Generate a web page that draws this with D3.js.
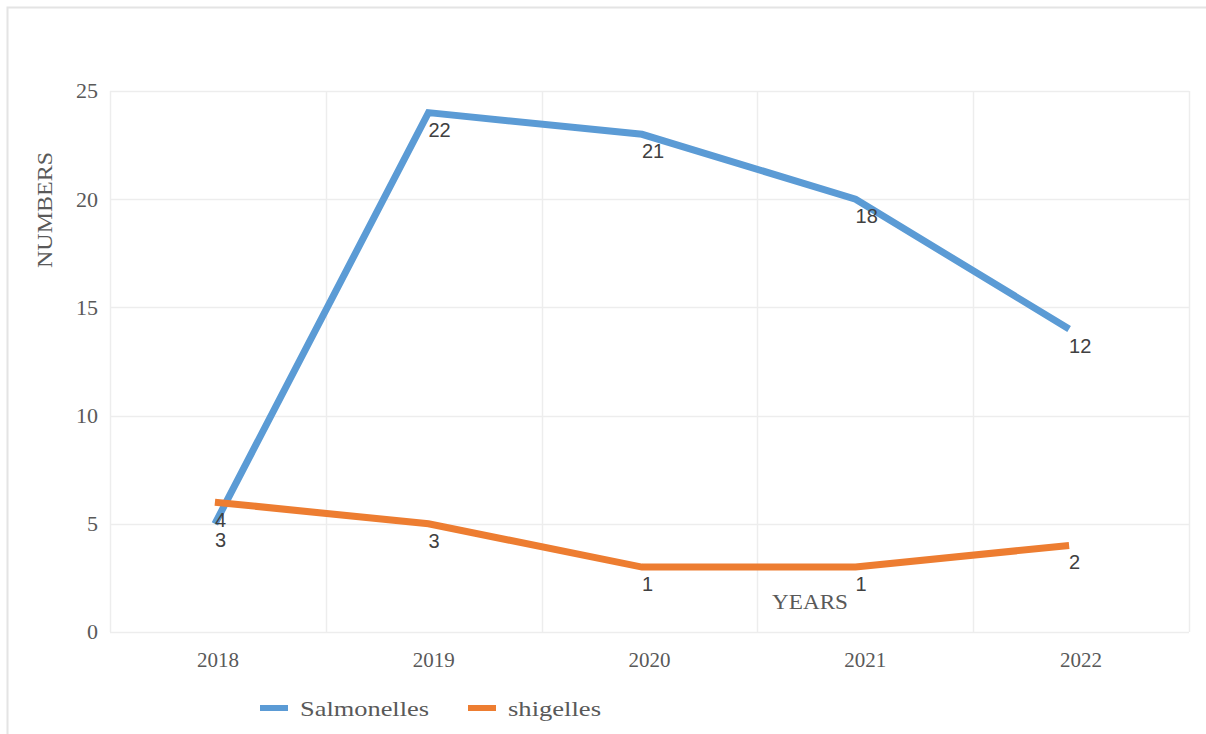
<!DOCTYPE html>
<html lang="en">
<head>
    <meta charset="UTF-8">
    <title>Salmonelles and shigelles</title>
    <style>
        body {
            margin: 0;
            padding: 0;
            background-color: #ffffff;
        }
        #chart {
            width: 1206px;
            height: 734px;
        }
    </style>
</head>
<body>

<div id="chart"></div>

<script src="https://d3js.org/d3.v7.min.js"></script>
<script>
    // Chart data
    const years = ["2018", "2019", "2020", "2021", "2022"];
    const salmonellesValues = [5, 24, 23, 20, 14];
    const salmonellesLabels = [4, 22, 21, 18, 12];
    const shigellesValues = [6, 5, 3, 3, 4];
    const shigellesLabels = [3, 3, 1, 1, 2];
    const yTicks = [0, 5, 10, 15, 20, 25];

    const width = 1206,
          height = 734;
    const margin = { top: 91, right: 17, bottom: 102, left: 110 };

    const svg = d3.select("#chart").append("svg")
        .attr("width", width)
        .attr("height", height);

    // Outer frame (only top and left edges show)
    svg.append("path")
        .attr("d", `M7.5,${height} V7.5 H${width}`)
        .attr("fill", "none")
        .attr("stroke", "#e4e4e4")
        .attr("stroke-width", 2);

    // Category bands (gridlines, tick labels)
    const x = d3.scaleBand()
        .domain(years)
        .range([margin.left, width - margin.right]);

    // Where the points sit: a little left of the band centres, as in the original
    const xp = d3.scalePoint()
        .domain(years)
        .range([x("2018") + x.bandwidth() / 2 - 3, x("2022") + x.bandwidth() / 2 - 12]);

    const y = d3.scaleLinear()
        .domain([0, 25])
        .range([height - margin.bottom, margin.top]);

    const serif = "'Liberation Serif', 'Times New Roman', serif";
    const sans = "'Liberation Sans', Arial, sans-serif";
    const textColor = "#595959";

    // Horizontal gridlines
    svg.append("g")
        .selectAll("line")
        .data(yTicks)
        .enter().append("line")
        .attr("x1", margin.left)
        .attr("x2", width - margin.right)
        .attr("y1", d => Math.round(y(d)) + 0.5)
        .attr("y2", d => Math.round(y(d)) + 0.5)
        .attr("stroke", "#ededed")
        .attr("stroke-width", 1.5);

    // Vertical gridlines at category boundaries
    const bounds = years.map(d => x(d)).concat([width - margin.right]);
    svg.append("g")
        .selectAll("line")
        .data(bounds)
        .enter().append("line")
        .attr("x1", d => Math.round(d) + 0.5)
        .attr("x2", d => Math.round(d) + 0.5)
        .attr("y1", margin.top)
        .attr("y2", height - margin.bottom)
        .attr("stroke", "#ededed")
        .attr("stroke-width", 1.5);

    // Y tick labels
    svg.append("g")
        .selectAll("text")
        .data(yTicks)
        .enter().append("text")
        .attr("x", 98)
        .attr("y", d => y(d))
        .attr("dy", "0.34em")
        .attr("text-anchor", "end")
        .style("font-family", serif)
        .style("font-size", "22px")
        .style("fill", textColor)
        .text(d => d);

    // X tick labels
    svg.append("g")
        .selectAll("text")
        .data(years)
        .enter().append("text")
        .attr("x", d => x(d) + x.bandwidth() / 2)
        .attr("y", 660)
        .attr("dy", "0.34em")
        .attr("text-anchor", "middle")
        .style("font-family", serif)
        .style("font-size", "21px")
        .style("fill", textColor)
        .text(d => d);

    // Axis titles (the original serif is wider than Times, so stretch to fit)
    svg.append("text")
        .attr("transform", "translate(52,210) rotate(-90)")
        .attr("text-anchor", "middle")
        .attr("textLength", 116)
        .attr("lengthAdjust", "spacingAndGlyphs")
        .style("font-family", serif)
        .style("font-size", "21px")
        .style("fill", textColor)
        .text("NUMBERS");

    svg.append("text")
        .attr("x", 810)
        .attr("y", 609)
        .attr("text-anchor", "middle")
        .attr("textLength", 76)
        .attr("lengthAdjust", "spacingAndGlyphs")
        .style("font-family", serif)
        .style("font-size", "21px")
        .style("fill", textColor)
        .text("YEARS");

    const series = [
        { name: "Salmonelles", values: salmonellesValues, labels: salmonellesLabels, color: "#5b9bd5", legendWidth: 129 },
        { name: "shigelles", values: shigellesValues, labels: shigellesLabels, color: "#ed7d31", legendWidth: 93 }
    ];

    const line = d3.line()
        .x((d, i) => xp(years[i]))
        .y(d => y(d));

    // Lines
    svg.append("g")
        .selectAll("path")
        .data(series)
        .enter().append("path")
        .attr("d", d => line(d.values))
        .attr("fill", "none")
        .attr("stroke", d => d.color)
        .attr("stroke-width", 7);

    // Data labels sit below each point; the two 2018 labels were moved apart
    const labelNudge = { "Salmonelles-0": -21, "shigelles-0": 21 };
    series.forEach(s => {
        svg.append("g")
            .selectAll("text")
            .data(s.values)
            .enter().append("text")
            .attr("x", (d, i) => xp(years[i]))
            .attr("y", (d, i) => y(d) + 24 + (labelNudge[s.name + "-" + i] || 0))
            .attr("dx", 0)
            .style("font-family", sans)
            .style("font-size", "20px")
            .style("fill", "#404040")
            .text((d, i) => s.labels[i]);
    });

    // Legend
    const legend = svg.append("g")
        .selectAll("g")
        .data(series)
        .enter().append("g")
        .attr("transform", (d, i) => `translate(${260 + i * 208},708)`);

    legend.append("line")
        .attr("x1", 0)
        .attr("x2", 28)
        .attr("stroke", d => d.color)
        .attr("stroke-width", 6);

    legend.append("text")
        .attr("x", 40)
        .attr("y", 8)
        .attr("textLength", d => d.legendWidth)
        .attr("lengthAdjust", "spacingAndGlyphs")
        .style("font-family", serif)
        .style("font-size", "21px")
        .style("fill", textColor)
        .text(d => d.name);
</script>

</body>
</html>
